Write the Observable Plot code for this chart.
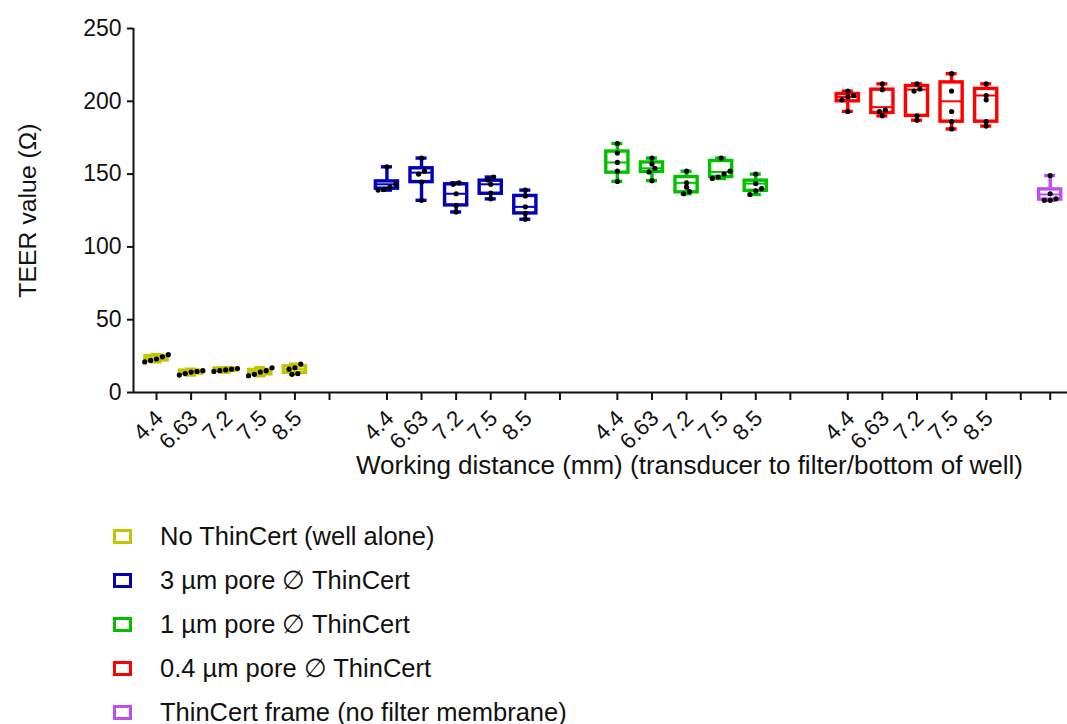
<!DOCTYPE html>
<html>
<head>
<meta charset="utf-8">
<script src="https://cdn.jsdelivr.net/npm/d3@7"></script>
<script src="https://cdn.jsdelivr.net/npm/@observablehq/plot@0.6"></script>
<style>
  body { margin: 0; background: #fff; font-family: "Liberation Sans", Arial, sans-serif; color: #111; }
  #legend { padding: 14px 0 0 113px; }
  .item { display: flex; align-items: center; height: 44px; font-size: 25.5px; white-space: nowrap; }
  .sw { width: 13px; height: 9px; border: 3px solid; margin-right: 28px; flex: none; }
</style>
</head>
<body>
<div id="chart"></div>
<div id="legend"></div>
<script>
// Working distances (mm) measured for every insert type
const distances = ["4.4", "6.63", "7.2", "7.5", "8.5"];

const seriesNames = [
  "No ThinCert (well alone)",
  "3 µm pore ∅ ThinCert",
  "1 µm pore ∅ ThinCert",
  "0.4 µm pore ∅ ThinCert",
  "ThinCert frame (no filter membrane)"
];
const seriesColors = ["#c4c400", "#0000bb", "#00c000", "#ff0000", "#bb4ff2"];

// Box summaries per distance: [min, Q1, median, Q3, max]  (TEER, Ω)
const statsNoInsert = [[21, 22, 23.5, 25, 26], [12, 13, 14, 15, 16], [14, 15, 15.5, 16.5, 17], [11.5, 12.5, 14, 15.5, 17], [12.5, 13.5, 16, 18, 19.5]];
const stats3um = [[139, 140, 143, 145, 155], [132, 144.5, 151, 154, 161], [124, 128.5, 136.5, 143, 144], [133, 136.5, 143, 145.5, 148], [119, 123, 127.5, 135, 139]];
const stats1um = [[145, 151, 158, 165.5, 171], [145.5, 151.5, 154, 158, 161], [136.5, 137.5, 144, 148, 152], [147, 148, 151.5, 159, 161], [136, 138.5, 143.5, 145.5, 150]];
const stats04um = [[193, 200, 203, 205, 207], [190, 192, 196, 208, 212], [187, 190, 208, 210.5, 212], [181, 186, 200, 213, 219], [183, 186, 204, 208.5, 212]];
const statsFrame = [[132, 132.5, 136, 139.5, 149]];

// Individual measurements per distance (TEER, Ω)
const pointsNoInsert = [[21, 22, 23, 24.5, 26], [12, 13, 14, 14.5, 15], [14.5, 15, 15.5, 16, 16.5], [11.5, 12.5, 14, 15, 17], [12.5, 13, 16, 17, 19.5]];
const points3um = [[139, 139.5, 141, 143, 155], [132, 144.5, 150, 152, 161], [124, 128.5, 136.5, 143, 144], [133, 137, 143, 146, 148], [119, 123, 127.5, 135, 139]];
const points1um = [[145, 152, 158, 164.5, 171], [145.5, 151.5, 154, 157, 161], [136.5, 138, 141, 144, 152], [147, 148, 150, 152, 161], [136, 138.5, 140, 143.5, 150]];
const points04um = [[193, 201, 203, 204, 207], [190, 193, 194, 208, 212], [187, 190, 207, 208.5, 212], [181, 186, 193, 207, 219], [183, 186, 201, 204, 212]];
const pointsFrame = [[132, 132, 133, 136.5, 149]];

const yTicks = [0, 50, 100, 150, 200, 250];

// Layout of the categorical x axis, in slot units (one slot per distance)
const groupStep = 6.66;      // distance from one group's first slot to the next
const frameOffset = 0.85;    // frame-only box sits just after the last spacer tick
const xDomain = [-0.665, 26.33];
const boxHalf = 0.32;
const capHalf = 0.16;

const groups = [
  {stats: statsNoInsert, points: pointsNoInsert},
  {stats: stats3um, points: points3um},
  {stats: stats1um, points: points1um},
  {stats: stats04um, points: points04um}
];

const boxes = [];
const dots = [];
const tickPos = [];
const xLabels = [];

function addBox(pos, s, pts, color) {
  boxes.push({pos, lo: s[0], q1: s[1], med: s[2], q3: s[3], hi: s[4], color});
  // spread near-equal values sideways so the dots don't overlap
  const sorted = pts.slice().sort((a, b) => a - b);
  let cluster = [];
  const flush = () => {
    cluster.forEach((v, j) => dots.push({x: pos + (j - (cluster.length - 1) / 2) * 0.17, v}));
    cluster = [];
  };
  sorted.forEach(v => {
    if (cluster.length && v - cluster[cluster.length - 1] > 2.6) flush();
    cluster.push(v);
  });
  flush();
}

groups.forEach((g, gi) => {
  distances.forEach((d, i) => {
    const pos = gi * groupStep + i;
    addBox(pos, g.stats[i], g.points[i], seriesColors[gi]);
    tickPos.push(pos);
    xLabels.push({pos, label: d});
  });
  tickPos.push(gi * groupStep + distances.length); // unlabeled spacer tick
});
const framePos = 3 * groupStep + distances.length + frameOffset;
addBox(framePos, statsFrame[0], pointsFrame[0], seriesColors[4]);
tickPos.push(framePos);

const font = "'Liberation Sans', Arial, sans-serif";
const lineW = 3.4;

const chart = Plot.plot({
  width: 1067,
  height: 500,
  marginLeft: 133,
  marginRight: 0,
  marginTop: 28,
  marginBottom: 108,
  x: {domain: xDomain},
  y: {domain: [0, 250]},
  color: {type: "identity"},
  style: {fontFamily: font, color: "#111", background: "#fff", overflow: "visible"},
  marks: [
    // axis ticks (labels drawn below as text marks)
    Plot.axisY({ticks: yTicks, tickSize: 6, tickFormat: () => "", strokeWidth: 2, label: null}),
    Plot.axisX({ticks: tickPos, tickSize: 8, tickFormat: () => "", strokeWidth: 2, label: null}),
    Plot.ruleY([0], {strokeWidth: 2, stroke: "#111"}),
    Plot.ruleX([xDomain[0]], {strokeWidth: 2, stroke: "#111"}),
    Plot.text(yTicks, {x: xDomain[0], y: d => d, text: d => String(d), textAnchor: "end", dx: -12, fontSize: 23, fill: "#111"}),
    Plot.text(xLabels, {x: "pos", y: 0, text: "label", rotate: -45, textAnchor: "end", lineAnchor: "middle", dx: 3, dy: 22, fontSize: 22.5, fill: "#111"}),
    // whiskers
    Plot.ruleX(boxes, {x: "pos", y1: "lo", y2: "q1", stroke: "color", strokeWidth: lineW}),
    Plot.ruleX(boxes, {x: "pos", y1: "q3", y2: "hi", stroke: "color", strokeWidth: lineW}),
    Plot.ruleY(boxes, {y: "lo", x1: d => d.pos - capHalf, x2: d => d.pos + capHalf, stroke: "color", strokeWidth: lineW}),
    Plot.ruleY(boxes, {y: "hi", x1: d => d.pos - capHalf, x2: d => d.pos + capHalf, stroke: "color", strokeWidth: lineW}),
    // boxes and medians
    Plot.rect(boxes, {x1: d => d.pos - boxHalf, x2: d => d.pos + boxHalf, y1: "q1", y2: "q3", fill: "#fff", stroke: "color", strokeWidth: lineW}),
    Plot.ruleY(boxes, {y: "med", x1: d => d.pos - boxHalf, x2: d => d.pos + boxHalf, stroke: "color", strokeWidth: 2}),
    // individual measurements
    Plot.dot(dots, {x: "x", y: "v", r: 2.6, fill: "#000", stroke: null}),
    // axis titles
    Plot.text(["Working distance (mm) (transducer to filter/bottom of well)"], {frameAnchor: "bottom", dx: 89, dy: 81, fontSize: 26, fill: "#111"}),
    Plot.text(["TEER value (Ω)"], {frameAnchor: "left", textAnchor: "middle", dx: -105, rotate: -90, fontSize: 24.8, fill: "#111"})
  ]
});
document.getElementById("chart").append(chart);

const legend = document.getElementById("legend");
seriesNames.forEach((name, i) => {
  const item = document.createElement("div");
  item.className = "item";
  const sw = document.createElement("span");
  sw.className = "sw";
  sw.style.borderColor = seriesColors[i];
  const label = document.createElement("span");
  label.textContent = name;
  item.append(sw, label);
  legend.append(item);
});
</script>
</body>
</html>
